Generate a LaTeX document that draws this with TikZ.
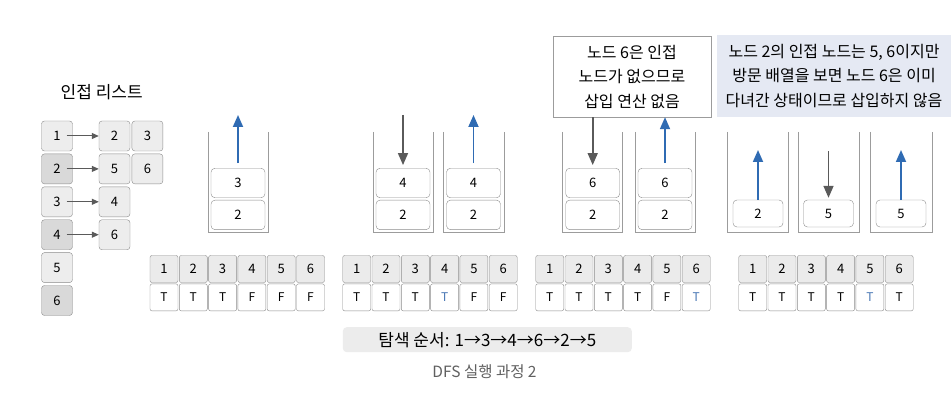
\documentclass[tikz,border=0pt]{standalone}
\usepackage{fontspec}
\setmainfont{Noto Sans CJK KR}
\usetikzlibrary{arrows.meta, positioning}
\definecolor{popblue}{HTML}{2F6BB3}
\definecolor{pushgray}{HTML}{5A5A5A}
\definecolor{wallgray}{HTML}{9C9C9C}
\definecolor{cellline}{HTML}{8C8C8C}
\definecolor{newblue}{HTML}{4A78B5}
\definecolor{notefill}{HTML}{E5E9F3}
\tikzset{
  adj/.style={rectangle,draw=cellline,rounded corners=3pt,fill=gray!14,minimum width=31pt,minimum height=30pt,inner sep=0pt,font=\fontsize{13}{15}\selectfont},
  adjdark/.style={adj,fill=gray!30},
  head/.style={rectangle,draw=cellline,rounded corners=2pt,fill=gray!16,minimum width=28pt,minimum height=27pt,inner sep=0pt,font=\fontsize{13}{15}\selectfont},
  flag/.style={head,fill=white,font=\fontsize{12}{14}\selectfont},
  seen/.style={flag,text=newblue},
  item/.style={rectangle,draw=cellline,rounded corners=4pt,fill=white,minimum width=54pt,minimum height=29.5pt,inner sep=0pt,font=\fontsize{13}{15}\selectfont},
  wall/.style={draw=wallgray,line width=0.9pt},
  push/.style={-{Triangle[length=12pt,width=10pt]},pushgray,line width=1.6pt},
  pop/.style={-{Triangle[length=12pt,width=10pt]},popblue,line width=1.8pt},
  link/.style={-{Triangle[length=7pt,width=6pt]},pushgray,line width=1pt},
  note/.style={rectangle,align=center,inner sep=0pt,font=\fontsize{16}{24.5}\selectfont}
}

\begin{document}
\begin{tikzpicture}[x=1pt,y=-1pt]
\path[use as bounding box, fill=white] (0,0) rectangle (952,414);

% adjacency list
\node[font=\fontsize{17}{20}\selectfont] (title) at (101.7,92) {인접 리스트};
\node[adj] (a1) at (57,136) {1};
\node[adjdark, below=2.5pt of a1] (a2) {2};
\node[adj, below=2.5pt of a2] (a3) {3};
\node[adjdark, below=2.5pt of a3] (a4) {4};
\node[adj, below=2.5pt of a4] (a5) {5};
\node[adjdark, below=2.5pt of a5] (a6) {6};
\node[adj] (b1) at (114.5,136) {2};
\node[adj, right=1.5pt of b1] (c1) {3};
\node[adj, below=2.5pt of b1] (b2) {5};
\node[adj, right=1.5pt of b2] (c2) {6};
\node[adj, below=2.5pt of b2] (b3) {4};
\node[adj, below=2.5pt of b3] (b4) {6};
\foreach \i in {1,...,4}
  \draw[link] ([xshift=-6pt]a\i.east) -- (b\i);

% stacks
\foreach \l/\r in {208/268, 373/433, 443/504, 562.7/622.7, 635/695, 727/788, 798/859, 870/932}
  \draw[wall] (\l,132) |- (\r,232) -- (\r,132);

\node[item] (s1a) at (238,183) {3};
\node[item, below=2pt of s1a] (s1b) {2};
\node[item] (s2a) at (403,183) {4};
\node[item, below=2pt of s2a] (s2b) {2};
\node[item] (s3a) at (473.5,183) {4};
\node[item, below=2pt of s3a] (s3b) {2};
\node[item] (s4a) at (592.7,183) {6};
\node[item, below=2pt of s4a] (s4b) {2};
\node[item] (s5a) at (665,183) {6};
\node[item, below=2pt of s5a] (s5b) {2};
\node[item, minimum width=50pt, minimum height=27pt] (s6) at (758,213.5) {2};
\node[item, minimum width=50pt, minimum height=27pt] (s7) at (828.5,213.5) {5};
\node[item, minimum width=50pt, minimum height=27pt] (s8) at (901,213.5) {5};

\node[note, draw=wallgray, fill=white, minimum width=158pt, minimum height=81pt] (note1) at (632,76.5)
  {노드 6은 인접\\노드가 없으므로\\삽입 연산 없음};
\node[note, fill=notefill, minimum width=234pt, minimum height=82pt] (note2) at (834,76)
  {노드 2의 인접 노드는 5, 6이지만\\방문 배열을 보면 노드 6은 이미\\다녀간 상태이므로 삽입하지 않음};

\coordinate (s1t) at (238,115);
\coordinate (s2t) at (403,115);
\coordinate (s3t) at (473.5,115);
\coordinate (s6t) at (758,150);
\coordinate (s7t) at (828.5,151.5);
\coordinate (s8t) at (901,150);
\draw[pop, shorten <=5pt] (s1a) -- (s1t);
\draw[push, shorten >=3pt] (s2t) -- (s2a);
\draw[pop, shorten <=5pt] (s3a) -- (s3t);
\draw[push, shorten >=3pt] (note1.south -| s4a) -- (s4a);
\draw[pop, shorten <=5pt] (s5a) -- (s5a |- note1.south);
\draw[pop] (s6) -- (s6t);
\draw[push, shorten >=2pt] (s7t) -- (s7);
\draw[pop] (s8) -- (s8t);

% visited arrays
\foreach \x [count=\k] in {164,356.7,549.7,752.7}
  \foreach \i in {1,...,6}
    \node[head] (h\k\i) at ({\x+(\i-1)*29.3},269) {\i};
\foreach \v/\s [count=\i] in {T/flag,T/flag,T/flag,F/flag,F/flag,F/flag}
  \node[flag, below=1pt of h1\i] (f1\i) {\v};
\foreach \v/\s [count=\i] in {T/flag,T/flag,T/flag,T/seen,F/flag,F/flag}
  \node[\s, below=1pt of h2\i] (f2\i) {\v};
\foreach \v/\s [count=\i] in {T/flag,T/flag,T/flag,T/flag,F/flag,T/seen}
  \node[\s, below=1pt of h3\i] (f3\i) {\v};
\foreach \v/\s [count=\i] in {T/flag,T/flag,T/flag,T/flag,T/seen,T/flag}
  \node[\s, below=1pt of h4\i] (f4\i) {\v};

% order and caption
\node[rectangle, fill=gray!15, rounded corners=4pt, minimum width=289pt, minimum height=25pt,
  font=\fontsize{17}{19}\selectfont] (order) at (487.3,339.7) {탐색 순서: 1→3→4→6→2→5};
\node[text=gray!75!black, font=\fontsize{15.5}{18}\selectfont] (cap) at (484.5,372) {DFS 실행 과정 2};
\end{tikzpicture}
\end{document}
